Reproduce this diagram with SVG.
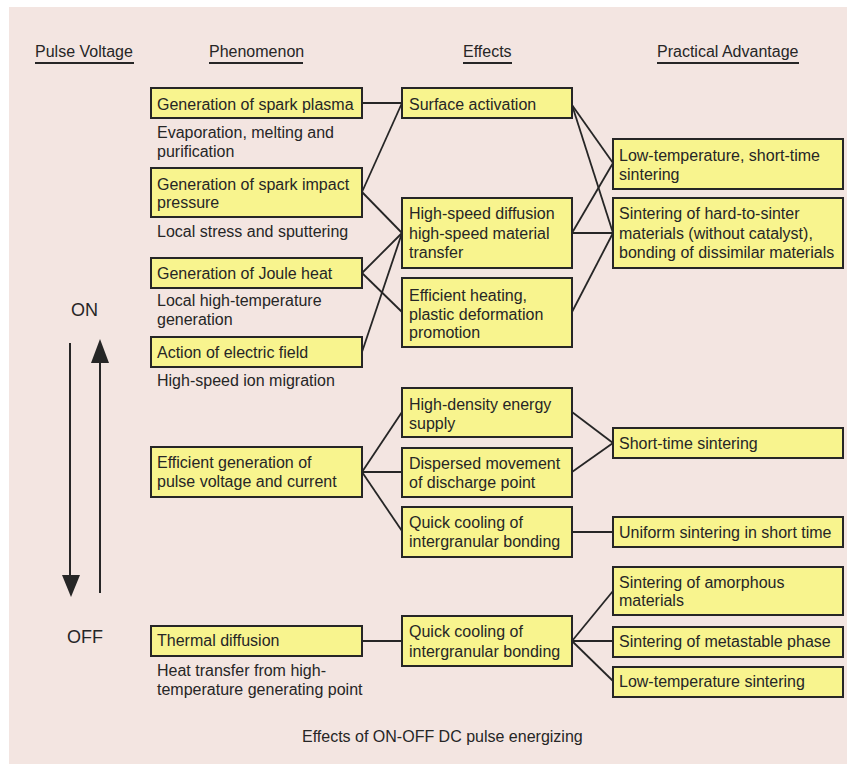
<svg xmlns="http://www.w3.org/2000/svg" width="850" height="769" viewBox="0 0 850 769">
<defs>
<style>
text{font-family:"Liberation Sans",Arial,sans-serif;font-size:16px;fill:#262626}
.big{font-size:18px}
.box{fill:#f8f48e;stroke:#262626;stroke-width:2}
.conn line{stroke:#262626;stroke-width:1.8}
.ul{stroke:#262626;stroke-width:2}
</style>
</defs>
<rect x="0" y="0" width="850" height="769" fill="#ffffff"/>
<rect x="9" y="7" width="838" height="757" fill="#f3e5e1"/>

<g id="headers">
<text x="35" y="57">Pulse Voltage</text>
<line class="ul" x1="35" y1="63" x2="134" y2="63"/>
<text x="209" y="57">Phenomenon</text>
<line class="ul" x1="209" y1="63" x2="303" y2="63"/>
<text x="463" y="57">Effects</text>
<line class="ul" x1="463" y1="63" x2="512" y2="63"/>
<text x="657" y="57">Practical Advantage</text>
<line class="ul" x1="657" y1="63" x2="799" y2="63"/>
</g>

<g id="pulse">
<text class="big" x="71" y="316">ON</text>
<text class="big" x="67" y="643">OFF</text>
<line x1="70" y1="343" x2="70" y2="578" stroke="#262626" stroke-width="2"/>
<polygon points="62,575 80,575 71,597" fill="#262626"/>
<line x1="100" y1="593" x2="100" y2="360" stroke="#262626" stroke-width="2"/>
<polygon points="91,363 109,363 100,339" fill="#262626"/>
</g>

<g class="conn" id="connectors">
<line x1="362" y1="103" x2="402" y2="103"/>
<line x1="362" y1="192" x2="402" y2="103"/>
<line x1="362" y1="192" x2="402" y2="233"/>
<line x1="362" y1="273" x2="402" y2="233"/>
<line x1="362" y1="273" x2="402" y2="312"/>
<line x1="362" y1="352" x2="402" y2="233"/>
<line x1="572" y1="105" x2="613" y2="163"/>
<line x1="572" y1="105" x2="613" y2="233"/>
<line x1="572" y1="233" x2="613" y2="163"/>
<line x1="572" y1="233" x2="613" y2="233"/>
<line x1="572" y1="312" x2="613" y2="233"/>
<line x1="362" y1="472" x2="402" y2="412"/>
<line x1="362" y1="472" x2="402" y2="472"/>
<line x1="362" y1="472" x2="402" y2="531"/>
<line x1="572" y1="412" x2="613" y2="443"/>
<line x1="572" y1="472" x2="613" y2="443"/>
<line x1="572" y1="532" x2="613" y2="532"/>
<line x1="362" y1="641" x2="402" y2="641"/>
<line x1="572" y1="641" x2="613" y2="591"/>
<line x1="572" y1="641" x2="613" y2="641"/>
<line x1="572" y1="641" x2="613" y2="681"/>
</g>

<g id="p1"><rect class="box" x="151" y="88" width="211" height="30"/><text x="157" y="110">Generation of spark plasma</text></g>
<g id="p1s"><text x="157" y="138">Evaporation, melting and</text><text x="157" y="157">purification</text></g>
<g id="p2"><rect class="box" x="151" y="168" width="211" height="49"/><text x="157" y="190">Generation of spark impact</text><text x="157" y="208">pressure</text></g>
<g id="p2s"><text x="157" y="237">Local stress and sputtering</text></g>
<g id="p3"><rect class="box" x="151" y="258" width="211" height="30"/><text x="157" y="279">Generation of Joule heat</text></g>
<g id="p3s"><text x="157" y="306">Local high-temperature</text><text x="157" y="325">generation</text></g>
<g id="p4"><rect class="box" x="151" y="337" width="211" height="30"/><text x="157" y="358">Action of electric field</text></g>
<g id="p4s"><text x="157" y="386">High-speed ion migration</text></g>
<g id="p5"><rect class="box" x="151" y="447" width="211" height="50"/><text x="157" y="468">Efficient generation of</text><text x="157" y="487">pulse voltage and current</text></g>
<g id="p6"><rect class="box" x="151" y="626" width="211" height="30"/><text x="157" y="646">Thermal diffusion</text></g>
<g id="p6s"><text x="157" y="676">Heat transfer from high-</text><text x="157" y="695">temperature generating point</text></g>

<g id="e1"><rect class="box" x="402" y="88" width="170" height="30"/><text x="409" y="110">Surface activation</text></g>
<g id="e2"><rect class="box" x="402" y="198" width="170" height="70"/><text x="409" y="219">High-speed diffusion</text><text x="409" y="239">high-speed material</text><text x="409" y="258">transfer</text></g>
<g id="e3"><rect class="box" x="402" y="278" width="170" height="69"/><text x="409" y="301">Efficient heating,</text><text x="409" y="320">plastic deformation</text><text x="409" y="338">promotion</text></g>
<g id="e4"><rect class="box" x="402" y="388" width="170" height="49"/><text x="409" y="410">High-density energy</text><text x="409" y="429">supply</text></g>
<g id="e5"><rect class="box" x="402" y="448" width="170" height="49"/><text x="409" y="469">Dispersed movement</text><text x="409" y="488">of discharge point</text></g>
<g id="e6"><rect class="box" x="402" y="507" width="170" height="50"/><text x="409" y="528">Quick cooling of</text><text x="409" y="547">intergranular bonding</text></g>
<g id="e7"><rect class="box" x="402" y="616" width="170" height="50"/><text x="409" y="637">Quick cooling of</text><text x="409" y="657">intergranular bonding</text></g>

<g id="a1"><rect class="box" x="613" y="139" width="230" height="50"/><text x="619" y="161">Low-temperature, short-time</text><text x="619" y="180">sintering</text></g>
<g id="a2"><rect class="box" x="613" y="198" width="230" height="70"/><text x="619" y="219">Sintering of hard-to-sinter</text><text x="619" y="239">materials (without catalyst),</text><text x="619" y="258">bonding of dissimilar materials</text></g>
<g id="a3"><rect class="box" x="613" y="428" width="230" height="30"/><text x="619" y="449">Short-time sintering</text></g>
<g id="a4"><rect class="box" x="613" y="517" width="230" height="30"/><text x="619" y="538">Uniform sintering in short time</text></g>
<g id="a5"><rect class="box" x="613" y="567" width="230" height="48"/><text x="619" y="588">Sintering of amorphous</text><text x="619" y="606">materials</text></g>
<g id="a6"><rect class="box" x="613" y="627" width="230" height="30"/><text x="619" y="647">Sintering of metastable phase</text></g>
<g id="a7"><rect class="box" x="613" y="667" width="230" height="30"/><text x="619" y="687">Low-temperature sintering</text></g>

<text x="302" y="742">Effects of ON-OFF DC pulse energizing</text>
</svg>
